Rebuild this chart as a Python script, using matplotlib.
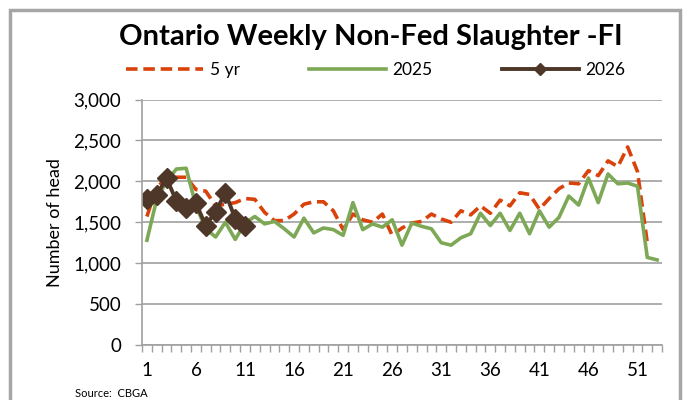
import numpy as np
import matplotlib.pyplot as plt
from matplotlib.patches import Rectangle

plt.rcParams['font.family'] = ['Lato', 'DejaVu Sans']

# weekly slaughter, number of head
weeks_5yr = np.arange(1, 53)
five_yr = [1570, 1930, 2030, 2050, 2050, 1900, 1880, 1700, 1720, 1740,
           1790, 1780, 1620, 1520, 1520, 1600, 1720, 1750, 1750, 1640,
           1410, 1600, 1530, 1500, 1600, 1340, 1430, 1490, 1510, 1600,
           1540, 1500, 1640, 1590, 1700, 1610, 1770, 1700, 1860, 1840,
           1660, 1790, 1910, 1980, 1970, 2130, 2070, 2250, 2180, 2420,
           2120, 1250]

weeks_2025 = np.arange(1, 54)
y2025 = [1280, 1780, 2000, 2150, 2160, 1700, 1420, 1320, 1500, 1290,
         1490, 1570, 1480, 1510, 1420, 1320, 1550, 1370, 1430, 1410,
         1340, 1740, 1410, 1480, 1440, 1530, 1220, 1490, 1450, 1420,
         1250, 1220, 1310, 1360, 1610, 1460, 1610, 1400, 1610, 1360,
         1640, 1440, 1560, 1820, 1710, 2040, 1740, 2090, 1970, 1980,
         1940, 1070, 1040]

weeks_2026 = np.arange(1, 12)
y2026 = [1790, 1830, 2040, 1760, 1680, 1730, 1460, 1630, 1860, 1545, 1450]

xtick_weeks = [1, 6, 11, 16, 21, 26, 31, 36, 41, 46, 51]
yticks = [0, 500, 1000, 1500, 2000, 2500, 3000]

fig = plt.figure(figsize=(6.86, 4.0), dpi=100)
ax = fig.add_axes([142/686, 1 - 345/400, 520/686, 245.5/400])

grid_c = '#A0A0A0'
ax.plot(weeks_5yr, five_yr, color='#D9420B', lw=2.6, dashes=(3.2, 1.6), label='5 yr')
ax.plot(weeks_2025, y2025, color='#7DA856', lw=2.6, label='2025')
ax.plot(weeks_2026, y2026, color='#4E3629', lw=2.8, marker='D', ms=10,
        label='2026')

ax.set_xlim(0.5, 53.5)
ax.set_ylim(0, 3000)
ax.set_yticks(yticks)
ax.set_yticklabels([f'{v:,}' for v in yticks])
ax.set_xticks(xtick_weeks)
ax.set_xticks(np.arange(0.5, 54), minor=True)
ax.tick_params(axis='x', which='major', length=0, pad=12, labelsize=13.5)
ax.tick_params(axis='x', which='minor', length=5, color=grid_c, width=1, direction='out')
ax.tick_params(axis='y', length=5, color=grid_c, width=1, labelsize=13.5, pad=10)
ax.yaxis.grid(True, color=grid_c, lw=1.2)
ax.set_axisbelow(True)
for s in ['top', 'right']:
    ax.spines[s].set_visible(False)
for s in ['left', 'bottom']:
    ax.spines[s].set_color(grid_c)
    ax.spines[s].set_linewidth(1.2)
ax.set_ylabel('Number of head', fontsize=13, labelpad=7)

fig.text(371/686, 1 - 37/400, 'Ontario Weekly Non-Fed Slaughter -FI',
         ha='center', va='center', fontsize=21, fontweight='bold')
leg = fig.legend(loc='center', bbox_to_anchor=(376/686, 1 - 70/400), ncol=3,
                 frameon=False, fontsize=12.5, handlelength=4.4, handletextpad=0.4,
                 columnspacing=4.0)
leg.legend_handles[2].set_markersize(6)

fig.text(75/686, 1/400, 'Source:  CBGA', fontsize=8, va='bottom', ha='left')

fig.patches.append(Rectangle((10/686, -0.05), 670/686, 1.05 - 10/400,
                             transform=fig.transFigure, fill=False,
                             edgecolor='#A6A6A6', lw=2.5))

fig.savefig('out.png', dpi=100)
